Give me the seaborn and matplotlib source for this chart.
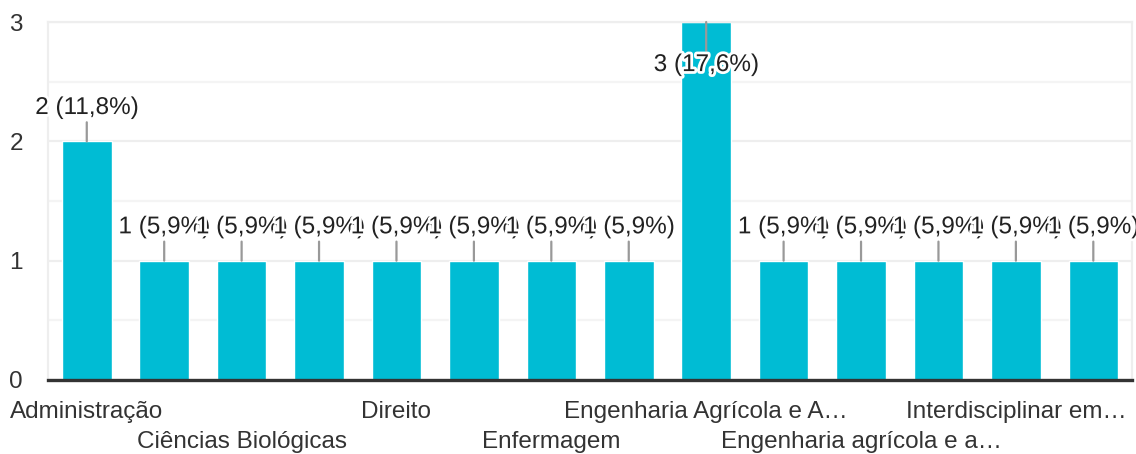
import matplotlib
matplotlib.use("Agg")
import matplotlib.pyplot as plt
import matplotlib.patheffects as pe
import matplotlib.transforms as mtransforms
import seaborn as sns

# respostas por curso (os nomes ocultos no gráfico original ficam como marcadores)
cursos = ["Administração", "(curso 2)", "Ciências Biológicas", "(curso 4)",
          "Direito", "(curso 6)", "Enfermagem", "(curso 8)",
          "Engenharia Agrícola e A…", "(curso 10)", "Engenharia agrícola e a…",
          "(curso 12)", "Interdisciplinar em…", "(curso 14)"]
respostas = [2, 1, 1, 1, 1, 1, 1, 1, 3, 1, 1, 1, 1, 1]
rotulos = ["2 (11,8%)", "1 (5,9%)", "1 (5,9%)", "1 (5,9%)", "1 (5,9%)", "1 (5,9%)",
           "1 (5,9%)", "1 (5,9%)", "3 (17,6%)", "1 (5,9%)", "1 (5,9%)", "1 (5,9%)",
           "1 (5,9%)", "1 (5,9%)"]
yticks = [0, 1, 2, 3]

sns.set_style("white")
plt.rcParams['font.family'] = ['Liberation Sans', 'DejaVu Sans']

fig = plt.figure(figsize=(11.36, 4.54), dpi=100)
ax = fig.add_axes([0.0423, 0.163, 0.9542, 0.7885])

sns.barplot(x=cursos, y=respostas, color="#00BCD4", width=0.64, saturation=1, ax=ax, zorder=2)

ax.set_ylim(0, 3)
ax.set_xlim(-0.5, len(cursos) - 0.5)
ax.set_yticks(yticks)
ax.set_yticks([0.5, 1.5, 2.5], minor=True)
ax.grid(axis="y", which="major", color="#eeeeee", lw=1.6, zorder=0)
ax.grid(axis="y", which="minor", color="#f4f4f4", lw=1.6, zorder=0)
ax.set_axisbelow(True)

for s in ["left", "right", "top"]:
    ax.spines[s].set_color("#eeeeee")
    ax.spines[s].set_linewidth(1.6)
ax.spines["bottom"].set_color("#333333")
ax.spines["bottom"].set_linewidth(2.4)
ax.spines["bottom"].set_zorder(5)

# rótulos do eixo x: só um em cada dois, alternando em duas linhas
nomes = [c if i % 2 == 0 else "" for i, c in enumerate(cursos)]
ax.set_xticks(range(len(cursos)))
ax.set_xticklabels(nomes, fontsize=17.5, color="#333333")
ax.tick_params(axis="x", length=0, pad=15)
ax.tick_params(axis="y", length=0, pad=18, labelsize=17.5, labelcolor="#333333")
ax.set_xlabel("")
ax.set_ylabel("")
desce = mtransforms.ScaledTranslation(0, -0.30, fig.dpi_scale_trans)
for i, lab in enumerate(ax.get_xticklabels()):
    if i % 4 == 2:
        lab.set_transform(lab.get_transform() + desce)

halo = [pe.withStroke(linewidth=4, foreground="white")]
topo = max(respostas)
for i, (v, r) in enumerate(zip(respostas, rotulos)):
    off = -31 if v == topo else 24
    ax.annotate(r, xy=(i, v), xytext=(0, off), textcoords="offset points",
                ha="center", va="center", fontsize=17.5, color="#222222",
                path_effects=halo, annotation_clip=False, zorder=6,
                arrowprops=dict(arrowstyle="-", color="#999999", lw=1.6,
                                shrinkA=0, shrinkB=0))

fig.savefig("out.png", dpi=100)
